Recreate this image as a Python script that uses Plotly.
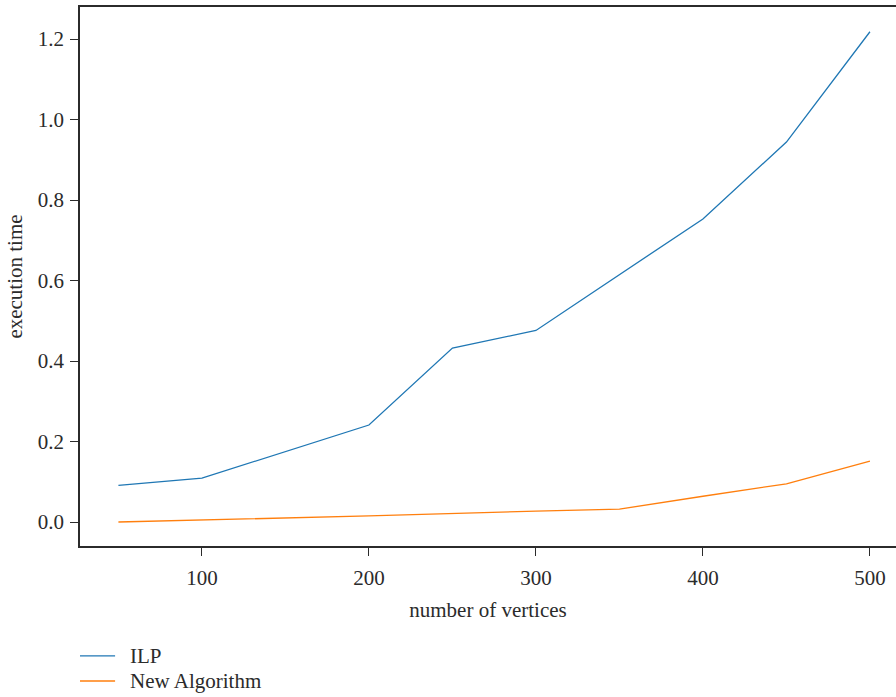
import plotly.graph_objects as go

# Problem size (number of vertices) and execution times for each method
ilp_vertices = [50, 100, 200, 250, 300, 400, 450, 500]
ilp_time = [0.091, 0.109, 0.241, 0.432, 0.476, 0.753, 0.944, 1.218]

new_vertices = [50, 100, 200, 300, 350, 400, 450, 500]
new_time = [0.000, 0.005, 0.015, 0.027, 0.032, 0.064, 0.095, 0.151]

x_ticks = [100, 200, 300, 400, 500]
y_ticks = [0.0, 0.2, 0.4, 0.6, 0.8, 1.0, 1.2]

series_names = ["ILP", "New Algorithm"]
series_colors = ["#1f77b4", "#ff7f0e"]

FONT = "Liberation Serif"
INK = "#2b2b2b"
FS = 21

fig = go.Figure()
fig.add_trace(go.Scatter(x=ilp_vertices, y=ilp_time, mode="lines", name=series_names[0],
                         line=dict(color=series_colors[0], width=1.3)))
fig.add_trace(go.Scatter(x=new_vertices, y=new_time, mode="lines", name=series_names[1],
                         line=dict(color=series_colors[1], width=1.3)))

axis_common = dict(showgrid=False, zeroline=False, showline=True, linecolor=INK,
                   linewidth=1.5, ticks="outside", ticklen=8, tickwidth=1.3,
                   tickcolor=INK, automargin=False,
                   tickfont=dict(family=FONT, size=FS, color=INK))

# Legend drawn below the plot: a short coloured line followed by the series name
legend_rows_y = [-0.204, -0.2505]
for name, color, yy in zip(series_names, series_colors, legend_rows_y):
    fig.add_shape(type="line", xref="paper", yref="paper", x0=0.0, x1=0.043,
                  y0=yy, y1=yy, line=dict(color=color, width=1.3))
    fig.add_annotation(xref="paper", yref="paper", x=0.0588, y=yy, text=name,
                       showarrow=False, xanchor="left", yanchor="middle",
                       font=dict(family=FONT, size=FS, color=INK))

fig.update_layout(
    width=896, height=697,
    margin=dict(l=80, r=0, t=7, b=151, autoexpand=False),
    paper_bgcolor="white", plot_bgcolor="white",
    font=dict(family=FONT, size=FS, color=INK),
    xaxis=dict(range=[27, 515.6], tickvals=x_ticks, mirror=True, ticklabelstandoff=4,
               title=dict(text="number of vertices", standoff=13,
                          font=dict(family=FONT, size=FS, color=INK)),
               **axis_common),
    yaxis=dict(range=[-0.0596, 1.2795], tickvals=y_ticks, tickformat=".1f",
               ticklabelstandoff=2,
               title=dict(text="execution time", standoff=9,
                          font=dict(family=FONT, size=FS, color=INK)),
               **axis_common),
    showlegend=False,
)

fig.write_html("out.html")
